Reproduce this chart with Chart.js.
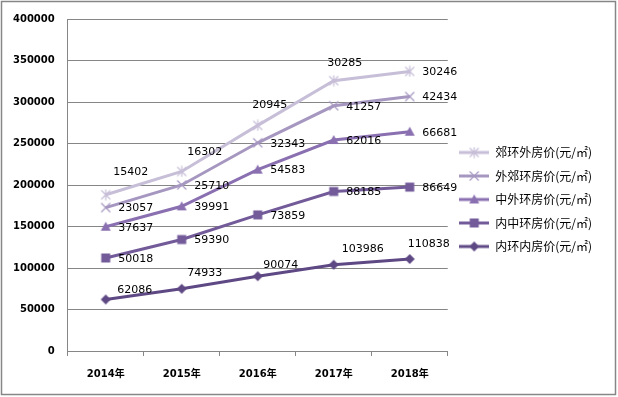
<!DOCTYPE html>
<html>
<head>
<meta charset="utf-8">
<script src="https://cdn.jsdelivr.net/npm/chart.js@4/dist/chart.umd.min.js"></script>
<style>
  body { margin: 0; background: #fff; }
</style>
</head>
<body>
<canvas id="myChart" width="618" height="397"></canvas>
<script>
const years = ["2014年", "2015年", "2016年", "2017年", "2018年"];
const seriesNames = [
  "内环内房价(元/㎡)",
  "内中环房价(元/㎡)",
  "中外环房价(元/㎡)",
  "外郊环房价(元/㎡)",
  "郊环外房价(元/㎡)",
];
// stacked from the bottom up, as in the workbook
const innerRing = [62086, 74933, 90074, 103986, 110838];
const innerMiddle = [50018, 59390, 73859, 88185, 86649];
const middleOuter = [37637, 39991, 54583, 62016, 66681];
const outerSuburb = [23057, 25710, 32343, 41257, 42434];
const beyondSuburb = [15402, 16302, 20945, 30285, 30246];
const yTicks = [0, 50000, 100000, 150000, 200000, 250000, 300000, 350000, 400000];

const allValues = [innerRing, innerMiddle, middleOuter, outerSuburb, beyondSuburb];

const colors = ["#5f4984", "#735b9a", "#8a70b0", "#a697c1", "#c7bed8"];
const markers = ["diamond", "square", "triangle", "cross", "asterisk"];

// label centre offsets from each point (dx, dy), like the hand-placed excel labels
const R = [30, 1];
const labelOffsets = [
  [[29, -9], [23, -16], [23, -11], [29, -16], [19, -15]],
  [R, R, R, R, R],
  [R, R, R, R, R],
  [R, R, R, R, R],
  [[25, -23], [23, -19], [12, -20], [11, -18], R],
];

const makeMarker = (type, color) => {
  const c = document.createElement("canvas");
  c.width = 12;
  c.height = 12;
  const g = c.getContext("2d");
  g.translate(6, 6);
  g.fillStyle = color;
  g.strokeStyle = color;
  g.lineWidth = 1.2;
  g.beginPath();
  if (type === "diamond") {
    g.moveTo(0, -5); g.lineTo(5, 0); g.lineTo(0, 5); g.lineTo(-5, 0);
    g.closePath(); g.fill();
  } else if (type === "square") {
    g.rect(-4.5, -4.5, 9, 9); g.fill();
  } else if (type === "triangle") {
    g.moveTo(0, -5); g.lineTo(5, 4); g.lineTo(-5, 4);
    g.closePath(); g.fill();
  } else if (type === "cross") {
    g.moveTo(-4.5, -4.5); g.lineTo(4.5, 4.5);
    g.moveTo(-4.5, 4.5); g.lineTo(4.5, -4.5); g.stroke();
  } else {
    g.moveTo(-4.5, -4.5); g.lineTo(4.5, 4.5);
    g.moveTo(-4.5, 4.5); g.lineTo(4.5, -4.5);
    g.moveTo(0, -5.5); g.lineTo(0, 5.5); g.stroke();
  }
  return c;
};

const makeLegendIcon = (marker, color) => {
  const c = document.createElement("canvas");
  c.width = 30;
  c.height = 12;
  const g = c.getContext("2d");
  g.strokeStyle = color;
  g.lineWidth = 3;
  g.beginPath();
  g.moveTo(0, 6);
  g.lineTo(30, 6);
  g.stroke();
  g.drawImage(marker, 9, 0);
  return c;
};

const markerImages = markers.map((m, i) => makeMarker(m, colors[i]));
const legendIcons = markerImages.map((m, i) => makeLegendIcon(m, colors[i]));

const frame = {
  id: "frame",
  afterDraw(chart) {
    const ctx = chart.ctx;
    ctx.save();
    ctx.strokeStyle = "#868686";
    ctx.lineWidth = 1.5;
    ctx.strokeRect(1.5, 1.5, 614, 393);
    ctx.restore();
  },
};

const valueLabels = {
  id: "valueLabels",
  afterDatasetsDraw(chart) {
    const ctx = chart.ctx;
    ctx.save();
    ctx.font = "11px 'DejaVu Sans'";
    ctx.fillStyle = "#000";
    ctx.textAlign = "center";
    ctx.textBaseline = "middle";
    chart.data.datasets.forEach((ds, i) => {
      chart.getDatasetMeta(i).data.forEach((pt, j) => {
        const [dx, dy] = labelOffsets[i][j];
        ctx.fillText(String(allValues[i][j]), pt.x + dx, pt.y + dy);
      });
    });
    ctx.restore();
  },
};

new Chart(document.getElementById("myChart"), {
  type: "line",
  data: {
    labels: years,
    datasets: seriesNames.map((name, i) => ({
      label: name,
      data: [...allValues[i]],
      borderColor: colors[i],
      backgroundColor: colors[i],
      borderWidth: 3,
      tension: 0,
      fill: false,
      pointStyle: markerImages[i],
    })),
  },
  options: {
    responsive: false,
    animation: false,
    layout: {
      padding: { left: 0, right: 21, top: 7, bottom: 5 },
    },
    plugins: {
      tooltip: { enabled: false },
      legend: {
        position: "right",
        align: "center",
        reverse: true,
        labels: {
          usePointStyle: true,
          pointStyleWidth: 30,
          padding: 11.5,
          color: "#000",
          font: { family: "'Noto Sans CJK SC'", size: 12 },
          generateLabels: (chart) =>
            chart.data.datasets.map((ds, i) => ({
              text: ds.label,
              pointStyle: legendIcons[i],
              fillStyle: colors[i],
              strokeStyle: colors[i],
              lineWidth: 0,
              hidden: false,
              datasetIndex: i,
            })),
        },
      },
    },
    scales: {
      x: {
        offset: true,
        grid: {
          offset: true,
          drawOnChartArea: false,
          drawTicks: true,
          tickLength: 5,
          color: "#868686",
        },
        border: { color: "#868686" },
        ticks: {
          padding: 12,
          color: "#000",
          font: { family: "'DejaVu Sans', 'Noto Sans CJK SC'", size: 10, weight: "bold" },
        },
      },
      y: {
        stacked: true,
        min: 0,
        max: 400000,
        afterBuildTicks: (axis) => {
          axis.ticks = yTicks.map((v) => ({ value: v }));
        },
        grid: { color: "#868686", drawTicks: false },
        border: { color: "#868686" },
        ticks: {
          padding: 13,
          color: "#000",
          font: { family: "'DejaVu Sans'", size: 10, weight: "bold" },
          callback: (v) => String(v),
        },
      },
    },
  },
  plugins: [frame, valueLabels],
});
</script>
</body>
</html>
